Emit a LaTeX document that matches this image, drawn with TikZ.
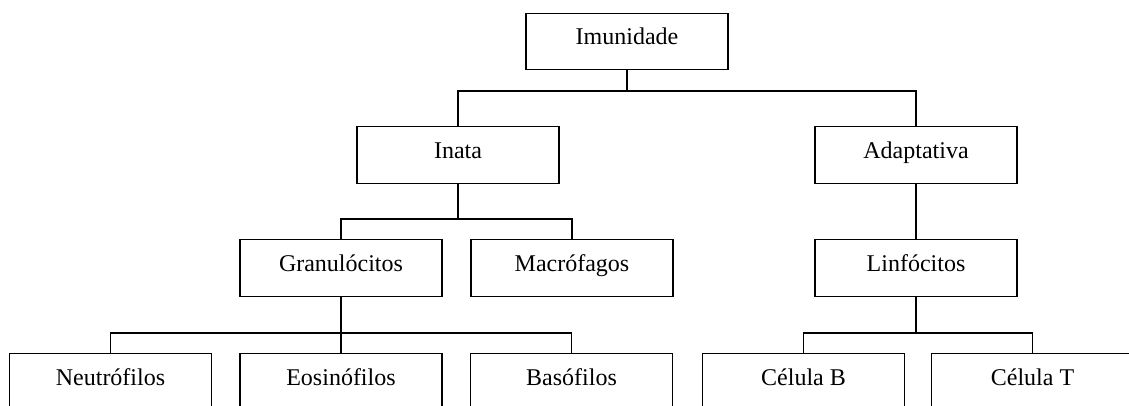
\documentclass[tikz,border=0pt]{standalone}
\usepackage{fontspec}
\setmainfont{Liberation Serif}
\begin{document}
\begin{tikzpicture}[x=0.75pt,y=-0.75pt,
  box/.style={draw=black,line width=0.8pt,rectangle,minimum width=151.5pt,minimum height=42.5pt,inner sep=0pt,
    font=\fontsize{18}{20}\selectfont,text height=0.68em,text depth=0.2em},
  link/.style={draw=black,line width=1.2pt}]
\useasboundingbox (0,0) rectangle (1129,406);
\clip (0,0) rectangle (1129,406);
\fill[white] (0,0) rectangle (1129,406);
\coordinate (b1) at (0,91);
\coordinate (b2) at (0,219);
\coordinate (b3) at (0,333);
\node[box] (imu) at (627,41.5) {Imunidade};
\node[box] (ina) at (458,155) {Inata};
\node[box] (ada) at (916,155) {Adaptativa};
\node[box] (gra) at (341,268) {Granulócitos};
\node[box] (mac) at (572,268) {Macrófagos};
\node[box] (lin) at (916,268) {Linfócitos};
\node[box] (neu) at (110.5,382) {Neutrófilos};
\node[box] (eos) at (341,382) {Eosinófilos};
\node[box] (bas) at (571.5,382) {Basófilos};
\node[box] (cb) at (803.5,382) {Célula B};
\node[box] (ct) at (1032.5,382) {Célula T};
\draw[link] (imu.south) -- (imu.south |- b1) -| (ina.north);
\draw[link] (imu.south |- b1) -| (ada.north);
\draw[link] (ina.south) -- (ina.south |- b2) -| (gra.north);
\draw[link] (ina.south |- b2) -| (mac.north);
\draw[link] (ada.south) -- (lin.north);
\draw[link] (gra.south) -- (gra.south |- b3) -| (neu.north);
\draw[link] (gra.south |- b3) -- (eos.north);
\draw[link] (gra.south |- b3) -| (bas.north);
\draw[link] (lin.south) -- (lin.south |- b3) -| (cb.north);
\draw[link] (lin.south |- b3) -| (ct.north);
\end{tikzpicture}
\end{document}
